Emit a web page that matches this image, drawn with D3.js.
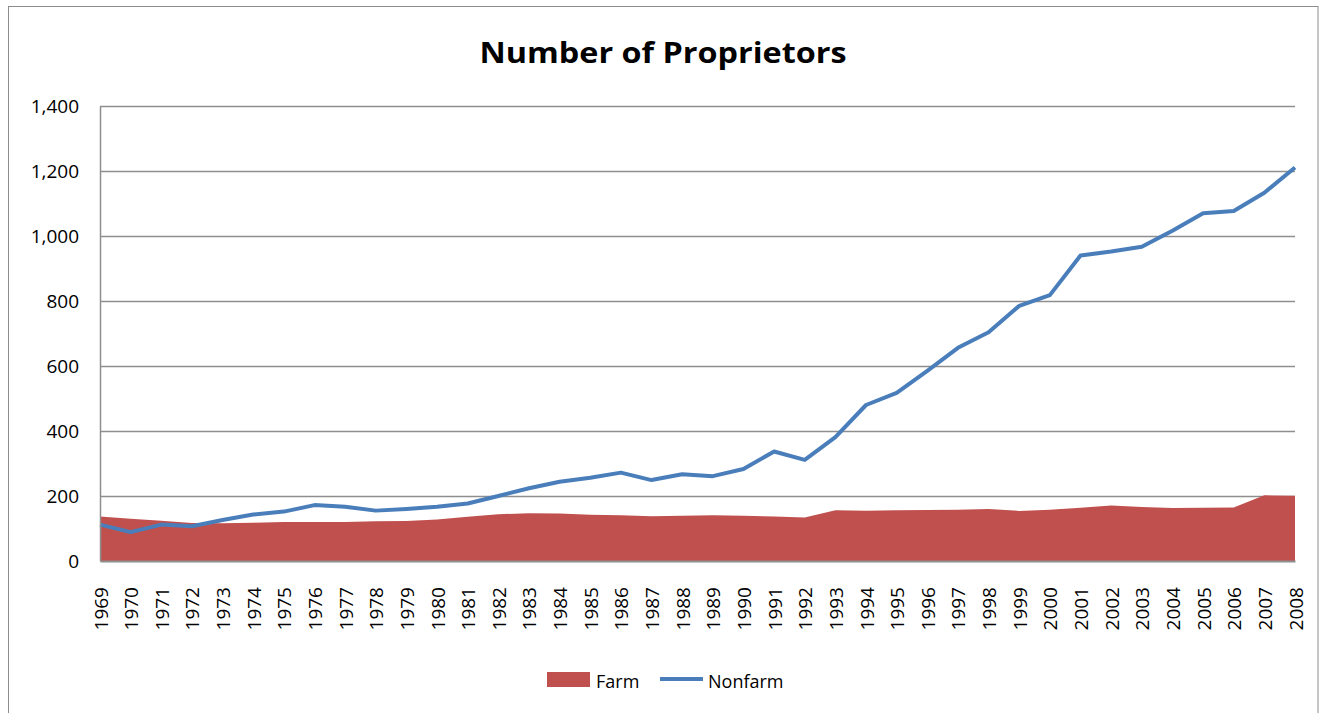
<!DOCTYPE html>
<head>
    <title>Number of Proprietors</title>
    <script src="https://d3js.org/d3.v7.min.js"></script>
</head>
<style>
body { margin: 0; background: #fff; font-family: "Open Sans", "Noto Sans", Arial, sans-serif; }
</style>
<body>
    <svg></svg>
</body>
<script>
    // Data
    var years = d3.range(1969, 2009);
    var farm = [137, 130, 124, 117, 116, 118, 120, 120, 120, 122,
                123, 128, 136, 144, 147, 146, 142, 141, 138, 139,
                141, 139, 137, 134, 156, 155, 156, 157, 158, 160,
                154, 158, 164, 171, 166, 163, 164, 165, 202, 201];
    var nonfarm = [112, 89, 112, 107, 126, 143, 152, 172, 167, 155,
                   160, 167, 177, 200, 224, 244, 256, 272, 249, 267,
                   261, 283, 337, 311, 381, 480, 517, 585, 656, 704,
                   785, 818, 940, 952, 967, 1016, 1070, 1077, 1133, 1211];
    var yTicks = [0, 200, 400, 600, 800, 1000, 1200, 1400];

    var width = 1324, height = 713;
    var plotLeft = 100, plotRight = 1295, plotTop = 106, plotBottom = 561;

    var svg = d3.select('svg').attr('width', width).attr('height', height);

    // chart frame (bottom edge falls outside the picture)
    svg.append('rect')
        .attr('x', 8.5).attr('y', 6.5)
        .attr('width', 1309.5).attr('height', 720)
        .attr('fill', 'none').attr('stroke', '#8c8c8c');

    svg.append('text')
        .attr('x', 663).attr('y', 63)
        .attr('text-anchor', 'middle')
        .style('font-family', '"Open Sans", sans-serif')
        .style('font-weight', 'bold').style('font-size', '29px')
        .attr('textLength', 367).attr('lengthAdjust', 'spacingAndGlyphs')
        .text('Number of Proprietors');

    var x = d3.scalePoint().domain(years).range([plotLeft, plotRight]);
    var y = d3.scaleLinear().domain([0, 1400]).range([plotBottom, plotTop]);

    // gridlines
    svg.append('g').selectAll('line')
        .data(yTicks.slice(1))
        .enter().append('line')
        .attr('x1', plotLeft).attr('x2', plotRight)
        .attr('y1', function (d) { return y(d) + 0.5; })
        .attr('y2', function (d) { return y(d) + 0.5; })
        .attr('stroke', '#8e8e8e').attr('stroke-width', 1.3);

    // farm area
    var area = d3.area()
        .x(function (d, i) { return x(years[i]); })
        .y0(y(0))
        .y1(function (d) { return y(d); });
    svg.append('path').datum(farm)
        .attr('d', area)
        .attr('fill', '#C0504D');

    // nonfarm line
    var line = d3.line()
        .x(function (d, i) { return x(years[i]); })
        .y(function (d) { return y(d); });
    svg.append('path').datum(nonfarm)
        .attr('d', line)
        .attr('fill', 'none')
        .attr('stroke', '#4A7EBB').attr('stroke-width', 4)
        .attr('stroke-linejoin', 'round');

    // axes
    var yAxis = svg.append('g')
        .attr('transform', 'translate(' + plotLeft + ',0)')
        .call(d3.axisLeft(y).tickValues(yTicks).tickSize(0).tickPadding(21)
            .tickFormat(d3.format(',')));
    yAxis.select('.domain').attr('stroke', '#8e8e8e').attr('stroke-width', 1.5);
    yAxis.selectAll('text').style('font-size', '19px')
        .style('font-family', '"Open Sans", sans-serif').attr('fill', '#000');

    var xAxis = svg.append('g')
        .attr('transform', 'translate(0,' + plotBottom + ')')
        .call(d3.axisBottom(x).tickSize(0));
    xAxis.select('.domain').attr('stroke', '#8e8e8e').attr('stroke-width', 2);
    xAxis.selectAll('text')
        .style('font-size', '19px')
        .style('font-family', '"Open Sans", sans-serif').attr('fill', '#000')
        .attr('text-anchor', 'end')
        .attr('x', 0).attr('y', 0).attr('dy', null)
        .attr('transform', 'translate(7,26) rotate(-90)');

    // legend
    var legend = svg.append('g').style('font-family', '"Open Sans", sans-serif').style('font-size', '18px');
    legend.append('rect').attr('x', 547).attr('y', 672).attr('width', 43).attr('height', 15).attr('fill', '#C0504D');
    legend.append('text').attr('x', 596).attr('y', 688).text('Farm');
    legend.append('line').attr('x1', 660).attr('x2', 703).attr('y1', 679).attr('y2', 679)
        .attr('stroke', '#4A7EBB').attr('stroke-width', 4);
    legend.append('text').attr('x', 708).attr('y', 688).text('Nonfarm');
</script>
